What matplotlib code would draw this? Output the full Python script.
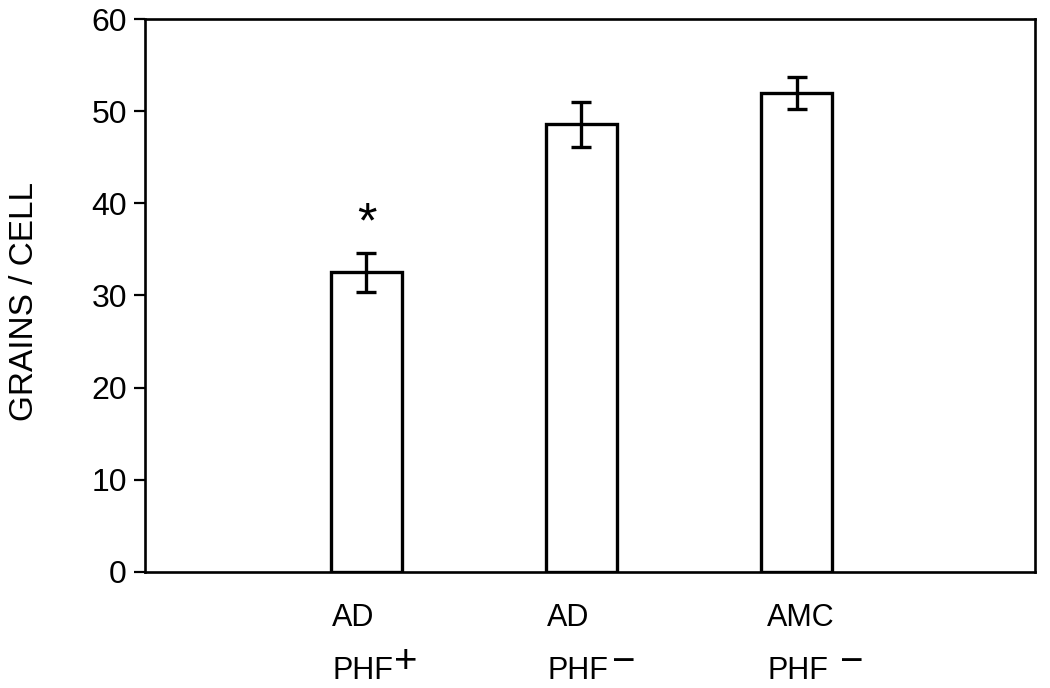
import matplotlib
matplotlib.use('Agg')
import matplotlib.pyplot as plt
import matplotlib.transforms as mtransforms

plt.rcParams['font.family'] = ['Liberation Sans', 'DejaVu Sans']

# data
groups = ['AD', 'AD', 'AMC']
phf = ['PHF', 'PHF', 'PHF']
phf_sign = ['+', '\u2212', '\u2212']
grains = [32.5, 48.6, 52.0]
sem = [2.1, 2.45, 1.7]
positions = [1, 2, 3]
significant = [True, False, False]

fig = plt.figure(figsize=(10.5, 6.88), dpi=100)
ax = fig.add_axes([0.138, 0.169, 0.848, 0.803])

width = 0.33
ax.bar(positions, grains, width=width, color='white', edgecolor='black',
       linewidth=2.4, zorder=2)
ax.errorbar(positions, grains, yerr=sem, fmt='none', ecolor='black',
            elinewidth=2.4, capsize=7, capthick=2.4, zorder=3)

for x, y, e, s in zip(positions, grains, sem, significant):
    if s:
        ax.text(x, y + e + 3.1, '*', ha='center', va='center', fontsize=36)

ax.set_xlim(-0.03, 4.11)
ax.set_ylim(0, 60)
ax.set_yticks(range(0, 61, 10))
ax.set_xticks([])
ax.tick_params('y', labelsize=23, direction='out', length=8, width=1.6, pad=5)
ax.set_ylabel('GRAINS / CELL', fontsize=24)
ax.yaxis.set_label_coords(-0.118, 0.49)
for sp in ax.spines.values():
    sp.set_linewidth(1.9)

trans = mtransforms.blended_transform_factory(ax.transData, ax.transAxes)
label_shift = [0.005, 0.005, 0.028]
sign_gap = [1.0, 2.0, 8.0]
for x, g, p, sgn, dx, gap in zip(positions, groups, phf, phf_sign, label_shift, sign_gap):
    lx = x - width / 2 + dx
    ax.text(lx, -0.083, g, transform=trans, ha='left', va='center', fontsize=22)
    t = ax.text(lx, -0.179, p, transform=trans, ha='left', va='center', fontsize=22)
    ax.annotate(sgn, xy=(1, 0.5), xycoords=t, xytext=(gap, 6),
                textcoords='offset points', ha='left', va='center', fontsize=29)

fig.savefig('out.png', dpi=100)
